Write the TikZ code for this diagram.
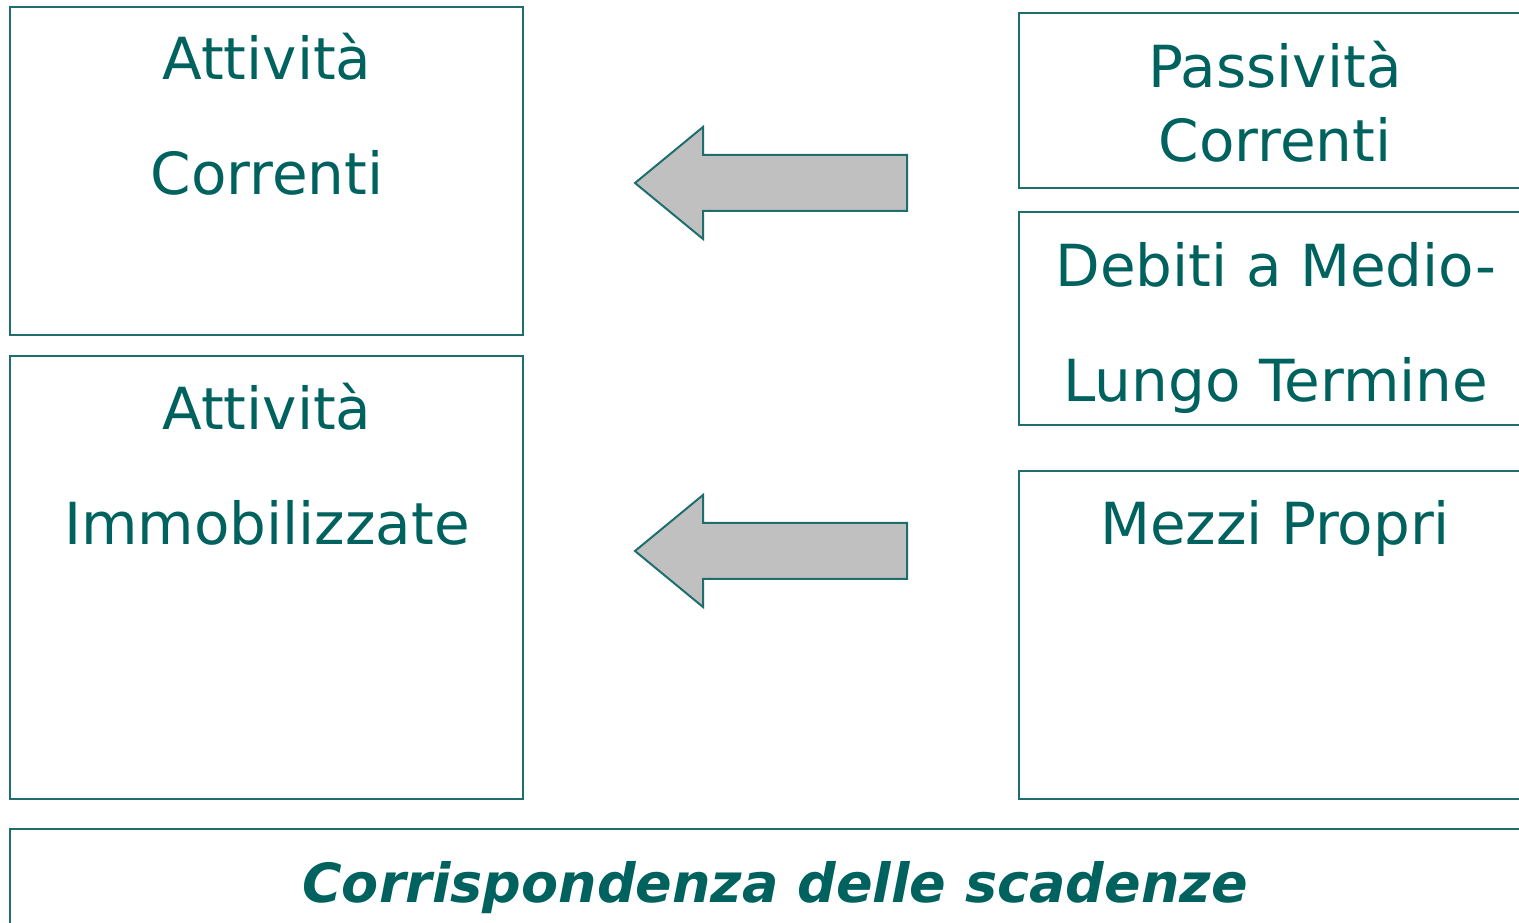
\documentclass[tikz,border=0pt]{standalone}
\usepackage{fontspec}
\setmainfont{DejaVu Sans}
\definecolor{tealline}{RGB}{30,110,110}
\definecolor{tealtext}{RGB}{0,98,94}
\definecolor{arrowgray}{RGB}{192,192,192}
\begin{document}
\begin{tikzpicture}[x=1pt,y=1pt,
  box/.style={draw=tealline,line width=2pt},
  blockarrow/.style={draw=tealline,fill=arrowgray,line width=2pt,line join=miter},
  lbl/.style={anchor=base,text=tealtext,inner sep=0pt,font=\fontsize{58}{60}\selectfont},
  note/.style={anchor=base,text=tealtext,inner sep=0pt,font=\fontsize{54}{60}\selectfont\bfseries\itshape}]
\useasboundingbox (0,0) rectangle (1519,923);
% left boxes
\draw[box] (10,916) rectangle (523,588);
\draw[box] (10,567) rectangle (523,124);
% right boxes (cut at right edge)
\draw[box] (1019,910) rectangle (1540,735);
\draw[box] (1019,711) rectangle (1540,498);
\draw[box] (1019,452) rectangle (1540,124);
% bottom box
\draw[box] (10,94) rectangle (1540,-20);
% arrows
\draw[blockarrow] (635,740) -- (703,796) -- (703,768) -- (907,768) -- (907,712) -- (703,712) -- (703,684) -- cycle;
\draw[blockarrow] (635,372) -- (703,428) -- (703,400) -- (907,400) -- (907,344) -- (703,344) -- (703,316) -- cycle;
% texts
\node[lbl] (a1) at (267,843) {Attività};
\node[lbl] (a2) at (267,728) {Correnti};
\node[lbl] (b1) at (267,493) {Attività};
\node[lbl] (b2) at (267,378) {Immobilizzate};
\node[lbl] (p1) at (1275,835) {Passività};
\node[lbl] (p2) at (1275,761) {Correnti};
\node[lbl] (d1) at (1276,636) {Debiti a Medio-};
\node[lbl] (d2) at (1276,521) {Lungo Termine};
\node[lbl] (m1) at (1275,378) {Mezzi Propri};
\node[note] (c1) at (775,20) {Corrispondenza delle scadenze};
\end{tikzpicture}
\end{document}
